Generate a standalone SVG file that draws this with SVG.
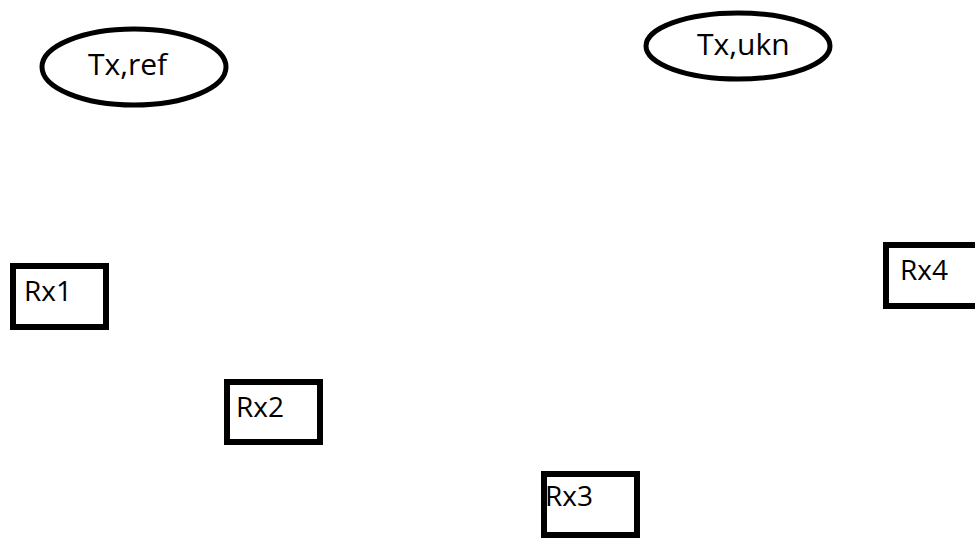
<svg xmlns="http://www.w3.org/2000/svg" width="975" height="541" viewBox="0 0 975 541">
  <style>
    .shape { fill: #ffffff; stroke: #000000; stroke-width: 5; }
    .box { stroke-width: 6; }
    .label { font-family: "Open Sans", "Noto Sans", sans-serif; font-size: 28px; fill: #000000; }
    .tx { font-size: 30px; }
  </style>
  <rect width="975" height="541" fill="#ffffff"/>
  <g id="connectors"></g>
  <g id="tx-ref">
    <ellipse class="shape" cx="134" cy="67" rx="92" ry="38"/>
    <text class="label tx" x="88" y="75">Tx,ref</text>
  </g>
  <g id="tx-ukn">
    <ellipse class="shape" cx="738" cy="46" rx="92" ry="33"/>
    <text class="label tx" x="697" y="55">Tx,ukn</text>
  </g>
  <g id="rx1">
    <rect class="shape box" x="13" y="266" width="93" height="61"/>
    <text class="label" x="24" y="301">Rx1</text>
  </g>
  <g id="rx2">
    <rect class="shape box" x="227" y="382" width="93" height="60"/>
    <text class="label" x="236" y="417">Rx2</text>
  </g>
  <g id="rx3">
    <rect class="shape box" x="544" y="474" width="93" height="61"/>
    <text class="label" x="545" y="506">Rx3</text>
  </g>
  <g id="rx4">
    <rect class="shape box" x="886" y="245" width="95" height="61"/>
    <text class="label" x="900" y="280">Rx4</text>
  </g>
</svg>
